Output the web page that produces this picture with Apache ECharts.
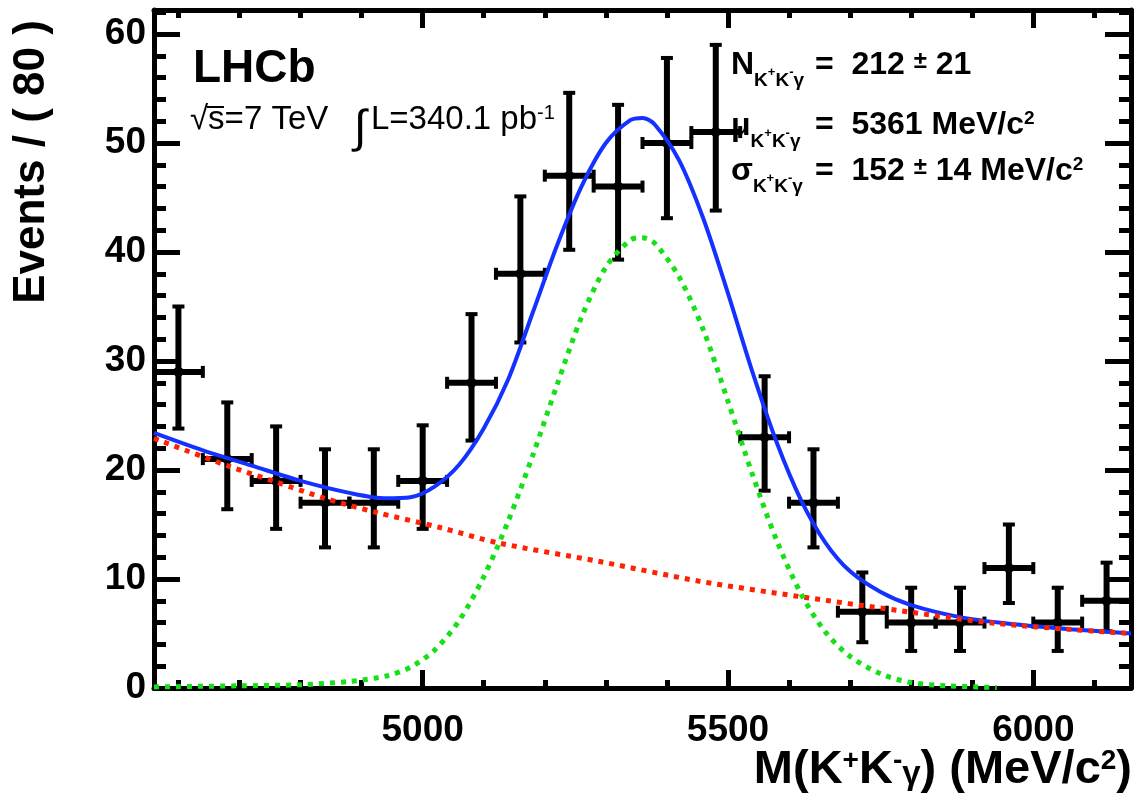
<!DOCTYPE html>
<html>
<head>
<meta charset="utf-8">
<script src="https://cdn.jsdelivr.net/npm/echarts@6/dist/echarts.min.js"></script>
<style>
  html, body { margin: 0; padding: 0; background: #fff; }
  #chart { width: 1134px; height: 800px; }
</style>
</head>
<body>
<div id="chart"></div>
<script>
// K+K-gamma invariant-mass spectrum, 80 MeV/c^2 bins, with the fit overlaid.
const binWidth = 80;
const binCenters = [4600, 4680, 4760, 4840, 4920, 5000, 5080, 5160, 5240, 5320,
                    5400, 5480, 5560, 5640, 5720, 5800, 5880, 5960, 6040, 6120];
const counts  = [29, 21, 19, 17, 17, 19, 28, 38, 47, 46, 50, 51, 23, 17, 7, 6, 6, 11, 6, 8];
const errLow  = [23.8, 16.4, 14.6, 12.9, 12.9, 14.6, 22.7, 31.7, 40.2, 39.3,
                 43.1, 43.8, 18.1, 12.9, 4.2, 3.4, 3.4, 7.8, 3.4, 5.2];
const errHigh = [35.0, 26.2, 24.0, 21.9, 21.9, 24.1, 34.3, 45.1, 54.6, 53.5,
                 57.8, 59.0, 28.6, 21.9, 10.6, 9.2, 9.2, 15.0, 9.2, 11.5];

// Fit curves as [mass, events per bin]
const totalFit = [[4560, 23.4], [4640, 21.8], [4720, 20.4], [4800, 19.0], [4880, 17.9],
                  [4940, 17.4], [4980, 17.5], [5020, 18.5], [5060, 20.5], [5100, 23.8],
                  [5140, 28.3], [5180, 34.4], [5220, 40.6], [5260, 46.0], [5300, 50.0],
                  [5340, 52.1], [5360, 52.3], [5380, 51.7], [5420, 48.4], [5460, 43.0],
                  [5500, 36.2], [5540, 29.0], [5580, 22.5], [5620, 17.2], [5660, 13.3],
                  [5700, 10.7], [5750, 8.8], [5800, 7.6], [5880, 6.5], [5960, 5.9],
                  [6060, 5.4], [6160, 5.0]];
const backgroundFit = [[4560, 22.9], [4680, 20.4], [4760, 18.9], [4840, 17.4], [4925, 16.1],
                       [5030, 14.7], [5125, 13.3], [5290, 11.6], [5453, 9.8], [5616, 8.4],
                       [5780, 7.1], [5943, 5.9], [6160, 5.0]];
const signalFit = [[4560, 0.1], [4700, 0.2], [4800, 0.3], [4880, 0.6], [4940, 1.1],
                   [4980, 1.9], [5020, 3.5], [5060, 6.2], [5100, 10.2], [5140, 15.3],
                   [5180, 21.3], [5220, 27.8], [5260, 34.0], [5300, 38.6], [5340, 41.1],
                   [5360, 41.3], [5380, 40.8], [5420, 37.7], [5460, 32.8], [5500, 26.3],
                   [5540, 19.6], [5580, 13.5], [5620, 8.6], [5660, 5.1], [5700, 2.9],
                   [5750, 1.3], [5800, 0.5], [5860, 0.2], [5940, 0.05]];

// Axis ranges and ticks
const xRange = [4560, 6160];
const yRange = [0, 62.2];
const xMajorTicks = [5000, 5500, 6000];
const xMinorTicks = [4600, 4700, 4800, 4900, 5100, 5200, 5300, 5400, 5600, 5700, 5800, 5900, 6100];
const yMajorTicks = [0, 10, 20, 30, 40, 50, 60];
const yMinorTicks = [2, 4, 6, 8, 12, 14, 16, 18, 22, 24, 26, 28, 32, 34, 36, 38,
                     42, 44, 46, 48, 52, 54, 56, 58, 62];

const FAMILY = '"Liberation Sans", Arial, Helvetica, sans-serif';

function axisDef(range, position, ticks, tickLen, withLine, labelOpts) {
  return {
    type: 'value', position: position, min: range[0], max: range[1],
    axisLine: withLine
      ? { show: true, onZero: false, lineStyle: { color: '#000', width: 5 } }
      : { show: false, onZero: false },
    axisTick: { show: true, inside: true, length: tickLen, customValues: ticks,
                lineStyle: { color: '#000', width: 5 } },
    axisLabel: labelOpts
      ? Object.assign({ show: true, customValues: ticks, color: '#000', fontSize: 37,
                        fontWeight: 'bold', fontFamily: FAMILY,
                        formatter: function (v) { return String(v); } }, labelOpts)
      : { show: false },
    splitLine: { show: false },
    minorTick: { show: false },
    silent: true
  };
}

function rs(size, weight, lineHeight, vAlign, padTop) {
  const s = { fontSize: size, fontWeight: weight, fontFamily: FAMILY, lineHeight: lineHeight,
              verticalAlign: vAlign, fill: '#000', color: '#000' };
  if (padTop) s.padding = [padTop, 0, 0, 0];
  return s;
}

function textEl(x, y, text, rich, align, vAlign, rotation) {
  return {
    type: 'text', x: x, y: y, z: 1, rotation: rotation || 0, silent: true,
    style: { text: text, rich: rich, fill: '#000',
             align: align, textAlign: align, verticalAlign: vAlign, textVerticalAlign: vAlign }
  };
}

// Rich styles for the fit-parameter box
const symRich = {
  m: rs(32, 'bold', 34, 'top'),
  s: rs(19, 'bold', 20, 'top', 22),
  p: rs(13, 'bold', 14, 'top', 17)
};
const valRich = {
  a: rs(32, 'bold', 34, 'top'),
  pm: rs(24, 'bold', 34, 'top'),
  sup: rs(19, 'bold', 20, 'top')
};

const graphics = [
  textEl(193, 46, '{a|LHCb}', { a: rs(46, 'bold', 50, 'top') }, 'left', 'top'),
  textEl(190, 103, '{a|√s=7 TeV}', { a: rs(33, 'normal', 34, 'top') }, 'left', 'top'),
  { type: 'line', z: 1, silent: true, shape: { x1: 207, y1: 107, x2: 224, y2: 107 },
    style: { stroke: '#000', lineWidth: 2 } },
  textEl(354, 106, '{i|∫}', { i: rs(46, 'normal', 50, 'top') }, 'left', 'top'),
  textEl(371, 103, '{a|L=340.1 pb}{s|-1}',
         { a: rs(33, 'normal', 34, 'top'), s: rs(20, 'normal', 20, 'top') }, 'left', 'top'),

  textEl(731, 49, '{m|N}{s|K}{p|+}{s|K}{p|-}{s|γ}', symRich, 'left', 'top'),
  textEl(815, 49, '{a|=  212 }{pm|±}{a| 21}', valRich, 'left', 'top'),
  textEl(731, 110, '{m|μ}{s|K}{p|+}{s|K}{p|-}{s|γ}', symRich, 'left', 'top'),
  textEl(815, 109, '{a|=  5361 MeV/c}{sup|2}', valRich, 'left', 'top'),
  textEl(731, 155, '{m|σ}{s|K}{p|+}{s|K}{p|-}{s|γ}', symRich, 'left', 'top'),
  textEl(815, 155, '{a|=  152 }{pm|±}{a| 14 MeV/c}{sup|2}', valRich, 'left', 'top'),

  textEl(1132, 747, '{a|M(K}{sp|+}{a|K}{sp|-}{g|γ}{a|) (MeV/c}{sp|2}{a|)}',
         { a: rs(47, 'bold', 50, 'top'), sp: rs(28, 'bold', 28, 'top'),
           g: rs(33, 'bold', 33, 'top', 11) }, 'right', 'top'),
  textEl(32, 162, '{a|Events / ( 80 )}', { a: rs(44, 'bold', 48, 'middle') }, 'center', 'middle',
         Math.PI / 2)
];

const points = binCenters.map(function (m, i) { return [m, counts[i], errLow[i], errHigh[i]]; });

const chart = echarts.init(document.getElementById('chart'), null, { renderer: 'canvas' });
chart.setOption({
  animation: false,
  backgroundColor: '#fff',
  grid: { left: 154, top: 10, width: 977, height: 678, containLabel: false, outerBoundsMode: 'none' },
  xAxis: [
    axisDef(xRange, 'bottom', xMajorTicks, 18, true, { margin: 24 }),
    axisDef(xRange, 'bottom', xMinorTicks, 8, false, null),
    axisDef(xRange, 'top', xMajorTicks, 18, true, null),
    axisDef(xRange, 'top', xMinorTicks, 8, false, null)
  ],
  yAxis: [
    axisDef(yRange, 'left', yMajorTicks, 26, true, { margin: 8 }),
    axisDef(yRange, 'left', yMinorTicks, 12, false, null),
    axisDef(yRange, 'right', yMajorTicks, 26, true, null),
    axisDef(yRange, 'right', yMinorTicks, 12, false, null)
  ],
  graphic: graphics,
  series: [
    {
      type: 'custom', name: 'data', xAxisIndex: 0, yAxisIndex: 0, data: points,
      encode: { x: 0, y: 1 }, clip: false, silent: true,
      renderItem: function (params, api) {
        const m = api.value(0), n = api.value(1), lo = api.value(2), hi = api.value(3);
        const c = api.coord([m, n]);
        const l = api.coord([m - binWidth / 2, n]);
        const r = api.coord([m + binWidth / 2, n]);
        const t = api.coord([m, hi]);
        const b = api.coord([m, lo]);
        const bar = { stroke: '#000', lineWidth: 6 };
        const cap = { stroke: '#000', lineWidth: 4 };
        const k = 6;
        return {
          type: 'group',
          children: [
            { type: 'line', shape: { x1: l[0], y1: c[1], x2: r[0], y2: c[1] }, style: bar },
            { type: 'line', shape: { x1: c[0], y1: t[1], x2: c[0], y2: b[1] }, style: bar },
            { type: 'line', shape: { x1: c[0] - k, y1: t[1], x2: c[0] + k, y2: t[1] }, style: cap },
            { type: 'line', shape: { x1: c[0] - k, y1: b[1], x2: c[0] + k, y2: b[1] }, style: cap },
            { type: 'line', shape: { x1: l[0], y1: c[1] - k, x2: l[0], y2: c[1] + k }, style: cap },
            { type: 'line', shape: { x1: r[0], y1: c[1] - k, x2: r[0], y2: c[1] + k }, style: cap },
            { type: 'circle', shape: { cx: c[0], cy: c[1], r: 5 }, style: { fill: '#000' } }
          ]
        };
      }
    },
    {
      type: 'line', name: 'total', data: totalFit, xAxisIndex: 0, yAxisIndex: 0,
      smooth: 0.3, symbol: 'none', silent: true,
      lineStyle: { color: '#1432ff', width: 4 }
    },
    {
      type: 'line', name: 'background', data: backgroundFit, xAxisIndex: 0, yAxisIndex: 0,
      smooth: 0.3, symbol: 'none', silent: true,
      lineStyle: { color: '#ff2200', width: 5, type: [5, 6], cap: 'butt' }
    },
    {
      type: 'line', name: 'signal', data: signalFit, xAxisIndex: 0, yAxisIndex: 0,
      smooth: 0.3, symbol: 'none', silent: true,
      lineStyle: { color: '#18e018', width: 5, type: [5, 6], cap: 'butt' }
    }
  ]
});
</script>
</body>
</html>
